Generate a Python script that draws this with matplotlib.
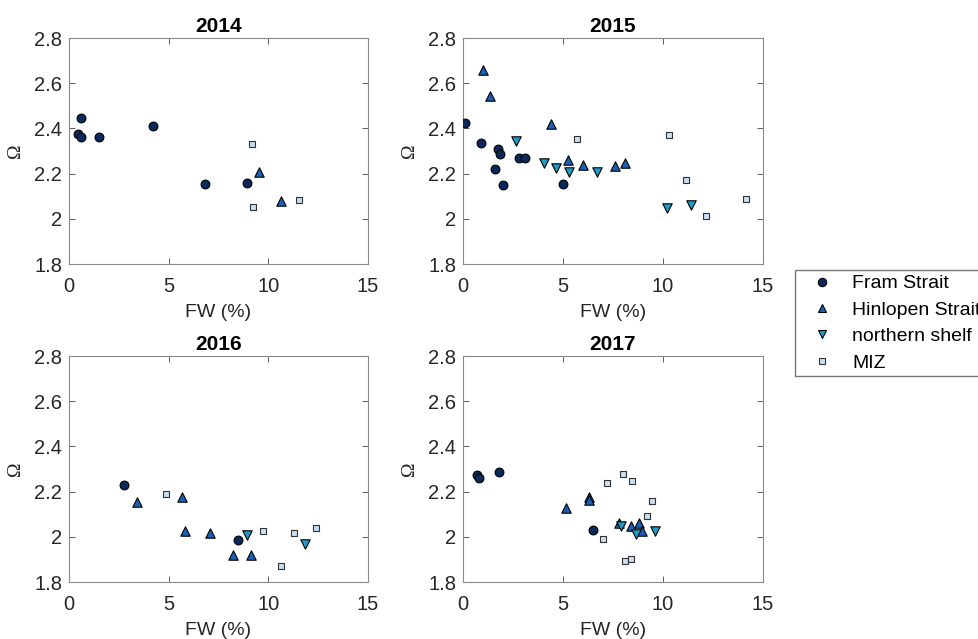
import matplotlib.pyplot as plt
from matplotlib.lines import Line2D

plt.rcParams['font.family'] = ['Liberation Sans', 'DejaVu Sans']

years = ['2014', '2015', '2016', '2017']
regions = ['Fram Strait', 'Hinlopen Strait', 'northern shelf', 'MIZ']

# FW (%) and Omega per region and year
fram_fw = {
    '2014': [0.47, 0.60, 0.62, 1.50, 4.21, 6.81, 8.95],
    '2015': [0.08, 0.92, 1.75, 1.85, 1.62, 2.02, 2.78, 3.08, 4.98],
    '2016': [2.74, 8.49],
    '2017': [0.68, 0.78, 1.82, 6.52],
}
fram_om = {
    '2014': [2.374, 2.446, 2.360, 2.363, 2.409, 2.154, 2.157],
    '2015': [2.424, 2.336, 2.311, 2.286, 2.220, 2.149, 2.271, 2.271, 2.152],
    '2016': [2.227, 1.987],
    '2017': [2.275, 2.262, 2.288, 2.032],
}
hinl_fw = {
    '2014': [9.55, 10.62],
    '2015': [1.02, 1.35, 4.38, 5.25, 5.98, 7.58, 8.08],
    '2016': [3.41, 5.65, 5.81, 7.08, 8.22, 9.12],
    '2017': [5.15, 6.28, 6.32, 7.78, 8.42, 8.78, 8.95],
}
hinl_om = {
    '2014': [2.207, 2.077],
    '2015': [2.657, 2.542, 2.421, 2.260, 2.237, 2.233, 2.248],
    '2016': [2.152, 2.178, 2.024, 2.016, 1.919, 1.919],
    '2017': [2.129, 2.176, 2.162, 2.062, 2.046, 2.062, 2.026],
}
shelf_fw = {
    '2014': [],
    '2015': [2.65, 4.05, 4.65, 5.32, 6.72, 10.22, 11.42],
    '2016': [8.92, 11.86],
    '2017': [7.88, 8.65, 9.62],
}
shelf_om = {
    '2014': [],
    '2015': [2.343, 2.245, 2.226, 2.209, 2.206, 2.050, 2.062],
    '2016': [2.010, 1.968],
    '2017': [2.046, 2.011, 2.026],
}
miz_fw = {
    '2014': [9.19, 9.22, 11.56],
    '2015': [5.68, 10.30, 11.15, 12.15, 14.15],
    '2016': [4.86, 9.72, 10.62, 11.29, 12.39],
    '2017': [7.22, 8.02, 8.45, 9.43, 9.22, 7.02, 8.08, 8.42],
}
miz_om = {
    '2014': [2.330, 2.052, 2.082],
    '2015': [2.354, 2.371, 2.170, 2.011, 2.086],
    '2016': [2.190, 2.026, 1.870, 2.018, 2.041],
    '2017': [2.237, 2.277, 2.246, 2.157, 2.092, 1.990, 1.894, 1.900],
}

styles = [
    (fram_fw, fram_om, 'o', '#0b2a5c', 40),
    (hinl_fw, hinl_om, '^', '#1a5fb8', 46),
    (shelf_fw, shelf_om, 'v', '#1c9cc6', 46),
    (miz_fw, miz_om, 's', '#c9def2', 22),
]

fig = plt.figure(figsize=(9.79, 6.39), dpi=100)

W, H = 979, 639
boxes = {
    '2014': (69, 38, 368, 264),
    '2015': (463, 38, 763, 264),
    '2016': (69, 356, 368, 582),
    '2017': (463, 356, 763, 582),
}

for yr in years:
    x0, y0, x1, y1 = boxes[yr]
    ax = fig.add_axes([x0 / W, 1 - y1 / H, (x1 - x0) / W, (y1 - y0) / H])
    for fw, om, mk, col, s in styles:
        ec = '#333333' if mk == 's' else 'black'
        ax.scatter(fw[yr], om[yr], marker=mk, s=s, c=col, edgecolors=ec,
                   linewidths=0.8, zorder=3)
    ax.set_xlim(0, 15)
    ax.set_ylim(1.8, 2.8)
    ax.set_xticks([0, 5, 10, 15])
    ax.set_yticks([1.8, 2.0, 2.2, 2.4, 2.6, 2.8])
    ax.set_yticklabels(['1.8', '2', '2.2', '2.4', '2.6', '2.8'])
    ax.tick_params(direction='in', top=True, right=True, length=4,
                   width=0.6, color='#444444', labelsize=14.5,
                   labelcolor='#262626')
    ax.tick_params(axis='x', pad=9)
    ax.tick_params(axis='y', pad=5)
    for sp in ax.spines.values():
        sp.set_color('#8a8a8a')
        sp.set_linewidth(0.8)
    ax.set_title(yr, fontsize=15, fontweight='bold', pad=4)
    ax.set_xlabel('FW (%)', fontsize=14, color='#262626', labelpad=6)
    ax.set_ylabel('Ω', fontsize=14, color='#262626',
                  family=['Liberation Serif', 'DejaVu Serif'], labelpad=7)

handles = [
    Line2D([], [], linestyle='none', marker=mk, markersize=(6 if mk != 's' else 5),
           markerfacecolor=col, markeredgecolor=('#333333' if mk == 's' else 'black'),
           markeredgewidth=0.8)
    for _, _, mk, col, _ in styles
]
fig.legend(handles, regions, loc='upper left', bbox_to_anchor=(795 / W, 1 - 270 / H),
           fontsize=14, frameon=True, fancybox=False, edgecolor='#777777',
           framealpha=1, borderpad=0.25, labelspacing=0.45, handletextpad=0.4,
           handlelength=2.3, borderaxespad=0)

fig.savefig('out.png', dpi=100)
